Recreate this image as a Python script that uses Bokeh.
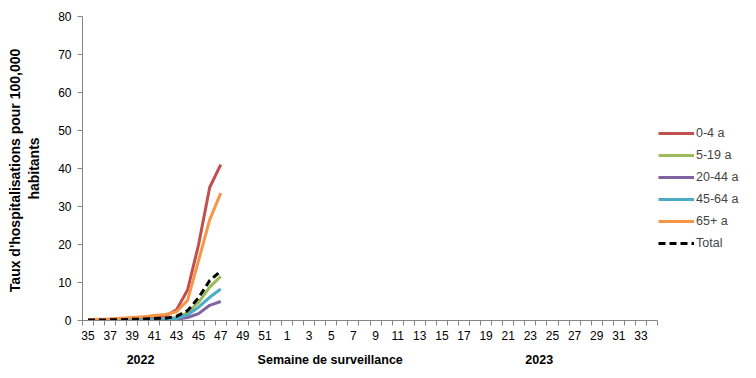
from bokeh.plotting import figure
from bokeh.models import Legend, LegendItem, FixedTicker, LinearAxis, Range1d
from bokeh.embed import file_html
from bokeh.resources import INLINE

# Categories: surveillance weeks (2022 wk 35 -> 2023 wk 34)
week_labels = [str(w) for w in range(35, 53)] + [str(w) for w in range(1, 35)]
# Observed weeks 35..47 (2022)
obs_weeks = ["35", "36", "37", "38", "39", "40", "41", "42", "43", "44", "45", "46", "47"]

age_0_4 = [0.1, 0.2, 0.3, 0.4, 0.5, 0.7, 0.9, 1.2, 2.8, 8.0, 20.0, 35.0, 41.0]
age_5_19 = [0.0, 0.1, 0.1, 0.1, 0.2, 0.2, 0.3, 0.4, 0.8, 2.0, 4.8, 8.8, 11.6]
age_20_44 = [0.0, 0.0, 0.1, 0.1, 0.1, 0.1, 0.2, 0.2, 0.3, 0.8, 1.8, 4.0, 5.0]
age_45_64 = [0.0, 0.1, 0.1, 0.1, 0.2, 0.2, 0.2, 0.3, 0.5, 1.5, 3.5, 6.1, 8.3]
age_65p = [0.2, 0.3, 0.4, 0.6, 0.8, 1.0, 1.3, 1.6, 2.3, 5.3, 15.8, 26.5, 33.5]
total = [0.1, 0.1, 0.2, 0.2, 0.3, 0.4, 0.5, 0.6, 1.1, 2.6, 6.0, 10.5, 13.0]

series_names = ["0-4 a", "5-19 a", "20-44 a", "45-64 a", "65+ a", "Total"]
series_values = [age_0_4, age_5_19, age_20_44, age_45_64, age_65p, total]
series_colors = ["#C0504D", "#9BBB59", "#8064A2", "#4BACC6", "#F79646", "#000000"]

# Secondary labels under the week axis (category-index positions)
group_labels = ["2022", "Semaine de surveillance", "2023"]
group_pos = [4.75, 21.9, 40.8]

FONT = "Liberation Sans"

n = len(week_labels)
xs = [week_labels.index(w) for w in obs_weeks]

p = figure(width=756, height=378, output_backend="svg", toolbar_location=None,
           x_range=Range1d(-0.5, 60.45), y_range=Range1d(0, 80),
           min_border_top=16, min_border_left=82, min_border_right=0, min_border_bottom=58)
p.outline_line_color = None
p.xgrid.visible = False
p.ygrid.visible = False
p.background_fill_color = "white"
p.border_fill_color = "white"

items = []
for name, vals, col in zip(series_names, series_values, series_colors):
    if name == "Total":
        r = p.line(xs, vals, line_color=col, line_width=3, line_dash="7 4")
    else:
        r = p.line(xs, vals, line_color=col, line_width=3)
    items.append(LegendItem(label=name, renderers=[r]))

# x axis: labels every other week, ticks at category boundaries
label_pos = list(range(0, n, 2))
p.xaxis.bounds = (-0.5, n - 0.5)
p.xaxis.ticker = FixedTicker(ticks=label_pos, minor_ticks=[i - 0.5 for i in range(n + 1)])
p.xaxis.major_label_overrides = {i: week_labels[i] for i in label_pos}
p.xaxis.major_tick_out = 0
p.xaxis.major_tick_in = 0
p.xaxis.minor_tick_out = 5
p.xaxis.minor_tick_in = 0
p.xaxis.axis_line_color = "#868686"
p.xaxis.minor_tick_line_color = "#868686"
p.xaxis.major_label_text_font = FONT
p.xaxis.major_label_text_font_size = "12px"
p.xaxis.major_label_text_color = "black"
p.xaxis.major_label_standoff = 5

# second axis below for year / title labels
ax2 = LinearAxis(ticker=FixedTicker(ticks=group_pos),
                 major_label_overrides={gp: gl for gp, gl in zip(group_pos, group_labels)},
                 axis_line_color=None, major_tick_line_color=None, minor_tick_line_color=None,
                 major_label_text_font=FONT, major_label_text_font_size="12.5px",
                 major_label_text_font_style="bold", major_label_text_color="black",
                 major_label_standoff=4)
p.add_layout(ax2, "below")

p.yaxis.ticker = FixedTicker(ticks=list(range(0, 81, 10)))
p.yaxis.minor_tick_line_color = None
p.yaxis.major_tick_out = 5
p.yaxis.major_tick_in = 0
p.yaxis.axis_line_color = "#868686"
p.yaxis.major_tick_line_color = "#868686"
p.yaxis.major_label_text_font = FONT
p.yaxis.major_label_text_font_size = "12px"
p.yaxis.major_label_text_color = "black"
p.yaxis.major_label_standoff = 6
p.yaxis.axis_label = "Taux d'hospitalisations  pour 100,000\nhabitants"
p.yaxis.axis_label_text_font = FONT
p.yaxis.axis_label_text_font_size = "14px"
p.yaxis.axis_label_text_font_style = "bold"
p.yaxis.axis_label_text_color = "black"
p.yaxis.axis_label_standoff = 13

legend = Legend(items=items, location=(576, 67), border_line_color=None,
                background_fill_alpha=0, label_text_font=FONT, label_text_font_size="12.5px",
                glyph_width=36, glyph_height=20, label_height=20, spacing=2,
                label_standoff=2, padding=0, margin=0)
p.add_layout(legend, "center")

open("out.html", "w").write(file_html(p, INLINE))
